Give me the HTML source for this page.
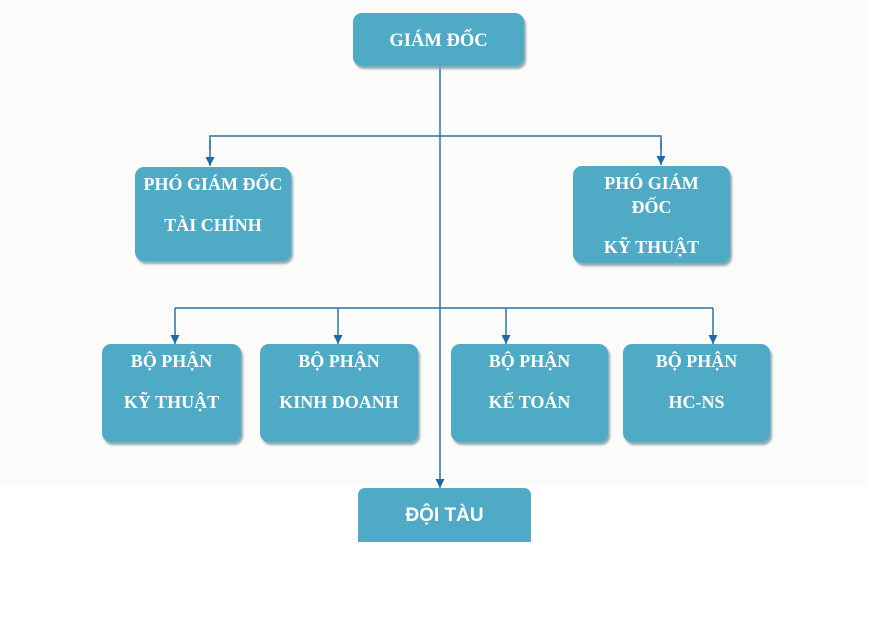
<!DOCTYPE html>
<html><head><meta charset="utf-8"><style>
body{margin:0;width:869px;height:622px;background:#fff;position:relative;overflow:hidden;font-family:"Liberation Serif",serif}
.bg{position:absolute;left:0;top:0;width:868px;height:486px;background:#fbfbfa}
.b{position:absolute;background:#4faac5;border-radius:9px;box-shadow:2px 3px 2px #8fa9b3;color:#fff;font-weight:bold;font-size:18px;text-align:center;display:flex;flex-direction:column;justify-content:center;line-height:21px}
svg{position:absolute;left:0;top:0}
</style></head><body>
<div class="bg"></div>
<svg width="869" height="622">
<defs><marker id="a" markerWidth="10" markerHeight="10" refX="9" refY="4.5" orient="auto" markerUnits="userSpaceOnUse"><path d="M0,0 L9,4.5 L0,9z" fill="#1d6aa8"/></marker></defs>
<g stroke="#2a73ad" stroke-width="1.5" fill="none">
<line x1="440" y1="66" x2="440" y2="488" marker-end="url(#a)"/>
<polyline points="210,150 210,136 661,136 661,150"/>
<line x1="210" y1="140" x2="210" y2="166" marker-end="url(#a)"/>
<line x1="661" y1="140" x2="661" y2="165" marker-end="url(#a)"/>
<line x1="175" y1="308" x2="713" y2="308"/>
<line x1="175" y1="308" x2="175" y2="344" marker-end="url(#a)"/>
<line x1="338" y1="308" x2="338" y2="344" marker-end="url(#a)"/>
<line x1="506" y1="308" x2="506" y2="344" marker-end="url(#a)"/>
<line x1="713" y1="308" x2="713" y2="344" marker-end="url(#a)"/>
</g></svg>
<div class="b" style="left:353px;top:13px;width:171px;height:53px;font-size:18.5px;padding-top:3px;box-sizing:border-box">GIÁM ĐỐC</div>
<div class="b" style="left:135px;top:167px;width:156px;height:94px;justify-content:flex-start"><div style="margin-top:7px">PHÓ GIÁM ĐỐC</div><div style="margin-top:20px">TÀI CHÍNH</div></div>
<div class="b" style="left:573px;top:166px;width:157px;height:97px;justify-content:flex-start"><div style="margin-top:5px;line-height:24px">PHÓ GIÁM<br>ĐỐC</div><div style="margin-top:18px">KỸ THUẬT</div></div>
<div class="b" style="left:102px;top:344px;width:139px;height:98px;justify-content:flex-start"><div style="margin-top:7px">BỘ PHẬN</div><div style="margin-top:20px">KỸ THUẬT</div></div>
<div class="b" style="left:260px;top:344px;width:158px;height:98px;justify-content:flex-start"><div style="margin-top:7px">BỘ PHẬN</div><div style="margin-top:20px">KINH DOANH</div></div>
<div class="b" style="left:451px;top:344px;width:157px;height:98px;justify-content:flex-start"><div style="margin-top:7px">BỘ PHẬN</div><div style="margin-top:20px">KẾ TOÁN</div></div>
<div class="b" style="left:623px;top:344px;width:147px;height:98px;justify-content:flex-start"><div style="margin-top:7px">BỘ PHẬN</div><div style="margin-top:20px">HC-NS</div></div>
<div class="b" style="left:358px;top:488px;width:173px;height:54px;border-radius:7px 7px 0 0;font-family:'Liberation Sans',sans-serif;font-size:19px;box-shadow:none">ĐỘI TÀU</div>
</body></html>
